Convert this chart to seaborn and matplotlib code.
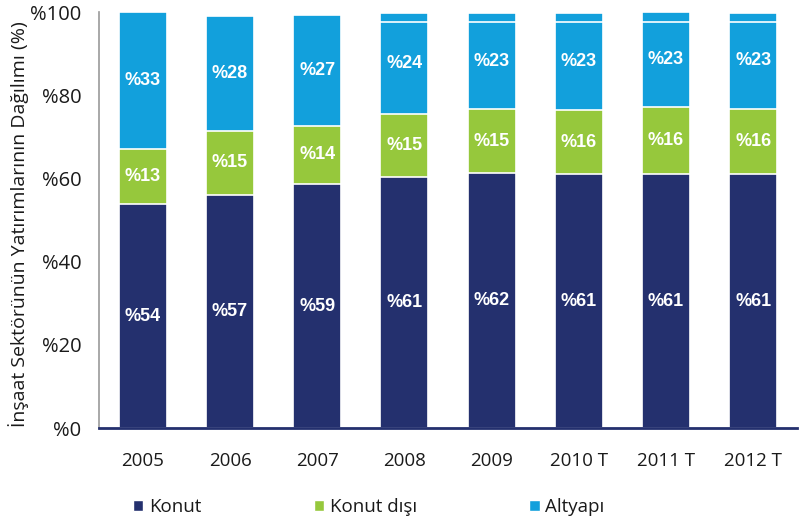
import matplotlib
matplotlib.use("Agg")
import matplotlib.pyplot as plt
from matplotlib.patches import Patch
import seaborn as sns
import numpy as np
import pandas as pd

# veriler
yillar = ["2005", "2006", "2007", "2008", "2009", "2010 T", "2011 T", "2012 T"]
konut = [53.8, 56.1, 58.6, 60.4, 61.2, 61.0, 61.1, 61.0]
konut_disi = [13.2, 15.3, 14.1, 15.2, 15.4, 15.4, 16.0, 15.7]
altyapi = [33.0, 27.7, 26.7, 24.2, 23.2, 23.4, 22.9, 23.1]
# altyapı çubuğundaki ince beyaz ayrım çizgisinin üstündeki kısım
altyapi_ust = [0, 0, 0, 2.3, 2.3, 2.3, 2.5, 2.3]
konut_etiket = ["%54", "%57", "%59", "%61", "%62", "%61", "%61", "%61"]
disi_etiket = ["%13", "%15", "%14", "%15", "%15", "%16", "%16", "%16"]
altyapi_etiket = ["%33", "%28", "%27", "%24", "%23", "%23", "%23", "%23"]
y_ticks = [0, 20, 40, 60, 80, 100]
y_etiket = ["%0", "%20", "%40", "%60", "%80", "%100"]

LACIVERT = "#24306e"
YESIL = "#96c83c"
MAVI = "#12a0dc"

sns.set_style("white")
plt.rcParams['font.family'] = ['Open Sans', 'DejaVu Sans']

df = pd.DataFrame({"yil": yillar, "konut": konut, "disi": konut_disi,
                   "alt": altyapi, "ust": altyapi_ust})
df["alt_tepe"] = df["konut"] + df["disi"] + df["alt"]
df["alt_govde"] = df["alt_tepe"] - df["ust"]
df["disi_tepe"] = df["konut"] + df["disi"]

fig = plt.figure(figsize=(8, 5.24), dpi=100)
ax = fig.add_axes([0.124, 0.183, 0.872, 0.794])

# üstten alta doğru üst üste çizim (yığılmış çubuk)
for kolon, renk in [("alt_tepe", MAVI), ("alt_govde", MAVI),
                    ("disi_tepe", YESIL), ("konut", LACIVERT)]:
    sns.barplot(data=df, x="yil", y=kolon, color=renk, width=0.55,
                edgecolor="white", linewidth=1.2, saturation=1, ax=ax)

x = np.arange(len(yillar))
for i in x:
    k = df["konut"][i]
    d = df["disi_tepe"][i]
    t = df["alt_tepe"][i]
    for yy, et in [(k / 2, konut_etiket[i]), ((k + d) / 2, disi_etiket[i]),
                   ((d + t) / 2, altyapi_etiket[i])]:
        ax.text(i, yy, et, color="white", ha="center", va="center",
                fontsize=13, fontweight="bold", family="Liberation Sans")

ax.set_xlim(-0.5, len(yillar) - 0.5)
ax.set_ylim(0, 100)
ax.set_yticks(y_ticks)
ax.set_yticklabels(y_etiket, fontsize=14.5, color="#1a1a1a")
ax.tick_params(axis="x", labelsize=13.5, pad=17, colors="#1a1a1a", length=0)
ax.tick_params(axis="y", length=0, pad=13)
ax.set_xlabel("")
ax.set_ylabel("İnşaat Sektörünün Yatırımlarının Dağılımı (%)", fontsize=14,
              color="#1a1a1a")
ax.yaxis.set_label_coords(-0.1, 0.49)

for s in ["top", "right"]:
    ax.spines[s].set_visible(False)
ax.spines["left"].set_color("#999999")
ax.spines["left"].set_linewidth(1.2)
ax.spines["bottom"].set_color(LACIVERT)
ax.spines["bottom"].set_linewidth(2)

tutamaklar = [Patch(facecolor=LACIVERT, edgecolor="white"),
              Patch(facecolor=YESIL, edgecolor="white"),
              Patch(facecolor=MAVI, edgecolor="white")]
fig.legend(tutamaklar, ["Konut", "Konut dışı", "Altyapı"], ncol=3,
           loc="center left", bbox_to_anchor=(0.145, 0.032), frameon=False,
           fontsize=13.5, handlelength=0.55, handleheight=0.55, handletextpad=0.3,
           columnspacing=6.0, labelcolor="#1a1a1a")

fig.savefig("out.png", dpi=100)
